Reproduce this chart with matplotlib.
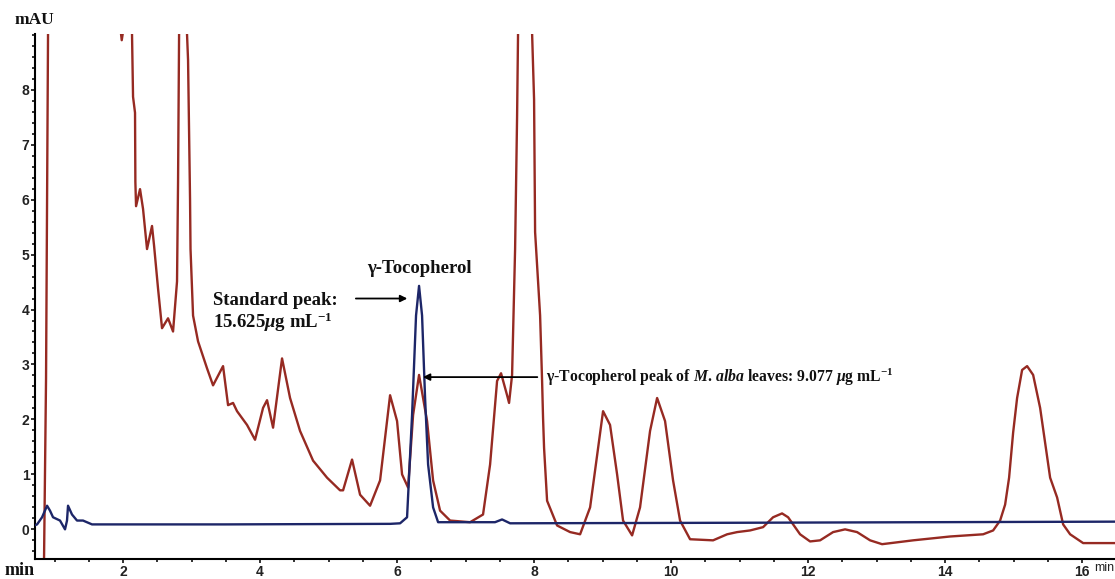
import numpy as np
import matplotlib.pyplot as plt
from matplotlib.ticker import MultipleLocator

plt.rcParams['mathtext.fontset'] = 'custom'
plt.rcParams['mathtext.rm'] = 'Liberation Serif:bold'
plt.rcParams['mathtext.it'] = 'Liberation Serif:italic:bold'
plt.rcParams['mathtext.bf'] = 'Liberation Serif:bold'

# M. alba leaf extract (red trace), time in min / absorbance in mAU
sample_t = [0.832, 0.847, 0.876, 0.905, 0.934, 1.90, 1.981, 2.015, 2.08, 2.131, 2.146,
            2.175, 2.18, 2.19, 2.248, 2.292, 2.35, 2.423, 2.453, 2.511, 2.569, 2.657,
            2.730, 2.788, 2.803, 2.818, 2.861, 2.934, 2.949, 2.978, 2.985, 3.022, 3.095,
            3.226, 3.314, 3.460, 3.533, 3.606, 3.664, 3.810, 3.927, 4.044, 4.102, 4.190,
            4.321, 4.438, 4.584, 4.774, 4.978, 5.168, 5.212, 5.343, 5.460, 5.606, 5.752,
            5.898, 6.000, 6.073, 6.161, 6.234, 6.321, 6.438, 6.526, 6.628, 6.774, 7.066,
            7.255, 7.358, 7.460, 7.518, 7.606, 7.635, 7.679, 7.723, 7.752, 7.766, 7.869,
            7.971, 8.000, 8.015, 8.088, 8.117, 8.131, 8.146, 8.190, 8.336, 8.526, 8.672,
            8.818, 8.934, 9.007, 9.109, 9.212, 9.299, 9.431, 9.547, 9.693, 9.796, 9.912,
            10.029, 10.131, 10.277, 10.613, 10.818, 10.964, 11.153, 11.343, 11.489,
            11.620, 11.708, 11.883, 12.029, 12.175, 12.365, 12.540, 12.715, 12.905,
            13.080, 13.533, 14.073, 14.555, 14.701, 14.803, 14.876, 14.934, 14.993,
            15.051, 15.124, 15.197, 15.285, 15.387, 15.460, 15.533, 15.635, 15.723,
            15.825, 16.015, 16.48]
sample_mau = [-1.23, -0.51, 2.75, 9.01, 11.4, 9.8, 8.90, 9.18, 9.6, 9.01, 7.87,
              7.58, 6.32, 5.88, 6.19, 5.83, 5.10, 5.52, 5.16, 4.38, 3.66, 3.84,
              3.60, 4.51, 6.32, 9.01, 13.0, 9.01, 8.54, 6.01, 5.10, 3.89, 3.42,
              2.93, 2.62, 2.97, 2.26, 2.30, 2.15, 1.90, 1.63, 2.21, 2.35, 1.85,
              3.11, 2.39, 1.79, 1.25, 0.94, 0.71, 0.71, 1.27, 0.63, 0.43, 0.89,
              2.44, 1.97, 1.00, 0.76, 2.08, 2.81, 1.97, 0.89, 0.34, 0.16, 0.13,
              0.27, 1.18, 2.70, 2.84, 2.44, 2.30, 2.81, 5.10, 7.51, 9.03, 20.0,
              9.03, 7.82, 5.41, 3.89, 2.70, 2.03, 1.48, 0.52, 0.07, -0.05, -0.09,
              0.40, 1.48, 2.15, 1.90, 1.00, 0.16, -0.11, 0.40, 1.79, 2.39, 1.97,
              0.89, 0.16, -0.18, -0.20, -0.09, -0.05, -0.02, 0.04, 0.22,
              0.29, 0.22, -0.09, -0.22, -0.20, -0.05, 0.00, -0.05, -0.20,
              -0.27, -0.20, -0.13, -0.09, -0.02, 0.16, 0.45, 0.94, 1.76,
              2.39, 2.90, 2.97, 2.81, 2.21, 1.57, 0.94, 0.58, 0.09,
              -0.09, -0.25, -0.25]

# gamma-tocopherol standard (blue trace)
std_t = [0.642, 0.745, 0.818, 0.891, 0.934, 0.978, 1.080, 1.153, 1.182, 1.197, 1.255,
         1.328, 1.416, 1.547, 3.5, 5.9, 6.044, 6.146, 6.219, 6.277, 6.321, 6.365,
         6.409, 6.453, 6.526, 6.599, 7.43, 7.533, 7.65, 11.0, 16.48]
std_mau = [0.04, 0.09, 0.22, 0.43, 0.34, 0.22, 0.16, 0.00, 0.16, 0.43, 0.27,
           0.16, 0.16, 0.09, 0.09, 0.10, 0.11, 0.22, 2.08, 3.89, 4.43, 3.89,
           2.39, 1.18, 0.40, 0.13, 0.13, 0.18, 0.11, 0.12, 0.14]

fig = plt.figure(figsize=(11.15, 5.79), dpi=100)
ax = fig.add_axes([0.0314, 0.0345, 0.9686, 0.9065])

ax.plot(std_t, std_mau, color='#1d2668', lw=1.7, zorder=3)
ax.plot(sample_t, sample_mau, color='#962a22', lw=1.7, zorder=2)

ax.set_xlim(0.715, 16.48)
ax.set_ylim(-0.54, 9.01)
ax.xaxis.set_minor_locator(MultipleLocator(0.5))
ax.yaxis.set_minor_locator(MultipleLocator(0.2))
ax.set_xticks([2, 4, 6, 8, 10, 12, 14, 16])
ax.set_yticks(range(0, 9))
ax.tick_params(which='both', direction='out', width=1.3, colors='#222222')
ax.tick_params(which='major', length=3, labelsize=10, pad=1)
ax.tick_params(which='minor', length=2)
for lab in ax.get_xticklabels() + ax.get_yticklabels():
    lab.set_fontweight('bold')
    lab.set_family('Liberation Sans')
for s in ['top', 'right']:
    ax.spines[s].set_visible(False)
for s in ['left', 'bottom']:
    ax.spines[s].set_linewidth(1.5)

serif = dict(family='Liberation Serif', fontweight='bold', color='#111111')
fig.text(0.013, 0.965, 'mAU', fontsize=12.5, ha='left', va='center', **serif)
fig.text(0.004, 0.0, 'min', fontsize=13, ha='left', va='bottom', **serif)
ax.text(16.17, -0.6, 'min', fontsize=9, ha='left', va='top',
        transform=ax.transData, clip_on=False, family='Liberation Sans', color='#222222')

ax.text(6.32, 4.74, 'γ-Tocopherol', fontsize=13.5, ha='center', va='center', **serif)
ax.text(3.32, 4.16, 'Standard peak:', fontsize=13.5, ha='left', va='center', **serif)
ax.text(3.32, 3.76, r'15.625$\mu$g mL$^{\mathbf{-1}}$', fontsize=13.5, ha='left', va='center', **serif)
ax.annotate('', xy=(6.19, 4.20), xytext=(5.358, 4.20),
            arrowprops=dict(arrowstyle='-|>', color='black', lw=1.3, mutation_scale=10))
ax.annotate('', xy=(6.336, 2.77), xytext=(8.088, 2.77),
            arrowprops=dict(arrowstyle='-|>', color='black', lw=1.3, mutation_scale=10))
ax.text(8.17, 2.77, r'γ-Tocopherol peak of $\mathit{M.\,alba}$ leaves: 9.077 $\mu$g mL$^{-1}$',
        fontsize=11.3, ha='left', va='center', **serif)

fig.savefig('out.png', dpi=100)
